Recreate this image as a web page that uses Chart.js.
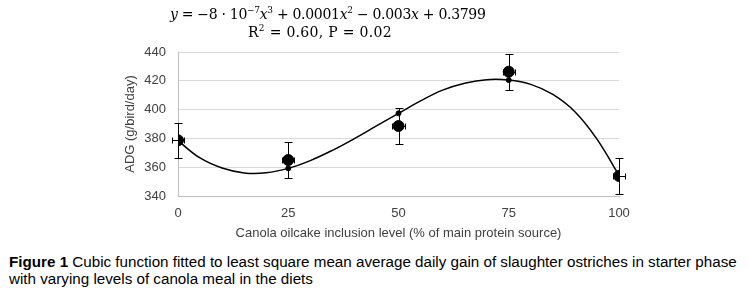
<!DOCTYPE html>
<html lang="en">
<head>
  <meta charset="UTF-8" />
  <title>Figure 1: ADG vs canola oilcake inclusion</title>
  <script src="https://cdn.jsdelivr.net/npm/chart.js"></script>
  <style>
    body { margin: 0; padding: 0; background: #fff; font-family: "Liberation Sans", Arial, sans-serif; }
    #wrap { position: relative; width: 748px; height: 295px; overflow: hidden; }
    #chart { position: absolute; left: 0; top: 0; }
    .eq { position: absolute; font-family: "DejaVu Serif", serif; font-size: 14px; line-height: 16px; color: #000; white-space: nowrap; }
    .eq i { font-style: italic; }
    .eq sup { font-size: 9px; line-height: 0; }
    #eq1 { left: 170px; top: 6px; letter-spacing: -0.3px; }
    #eq2 { left: 248px; top: 24px; letter-spacing: 0.3px; }
    #caption { position: absolute; left: 9px; top: 253px; font-size: 15.2px; line-height: 17px; color: #000; white-space: nowrap; }
  </style>
</head>
<body>
<div id="wrap">
  <canvas id="chart" width="748" height="245"></canvas>
  <div class="eq" id="eq1"><i>y</i> = −8 · 10<sup>−7</sup><i>x</i><sup>3</sup> + 0.0001<i>x</i><sup>2</sup> − 0.003<i>x</i> + 0.3799</div>
  <div class="eq" id="eq2">R<sup>2</sup> = 0.60, P = 0.02</div>
  <div id="caption"><b>Figure 1</b> Cubic function fitted to least square mean average daily gain of slaughter ostriches in starter phase<br>with varying levels of canola meal in the diets</div>
</div>

<script>
// inclusion levels (% of main protein source)
const levels = [0, 25, 50, 75, 100];
// least square means, g/bird/day
const means = [378.7, 365, 388.6, 426.3, 353.9];
const errors = [12.3, 12.3, 12.4, 12.4, 12.4];
const xErrors = [1.4, 1.4, 1.4, 1.4, 1.4];
// fitted values at each level
const fitted = [378.4, 359.2, 397.4, 420.5, 354.3];

// fitted cubic curve, every 5 %
const curveX = [0, 5, 10, 15, 20, 25, 30, 35, 40, 45, 50, 55, 60, 65, 70, 75, 80, 85, 90, 95, 100];
const curveY = [378.4, 366.4, 359.4, 356.0, 356.1, 359.2, 364.6, 371.7, 379.9, 388.7, 397.4, 406.0, 413.5, 418.3, 420.8, 420.5, 417.5, 410.5, 398.5, 379.5, 354.3];

const axisColor = '#404040';
const axisFont = { size: 13, family: '"Liberation Sans", Arial' };

const errorBars = {
  id: 'errorBars',
  afterDatasetsDraw(chart) {
    const { ctx, scales: { x, y } } = chart;
    ctx.save();
    ctx.strokeStyle = '#000';
    ctx.lineWidth = 1;
    levels.forEach((lv, i) => {
      const px = Math.round(x.getPixelForValue(lv)) + 0.5;
      const py = Math.round(y.getPixelForValue(means[i])) + 0.5;
      const top = Math.round(y.getPixelForValue(means[i] + errors[i])) + 0.5;
      const bot = Math.round(y.getPixelForValue(means[i] - errors[i])) + 0.5;
      ctx.beginPath();
      ctx.moveTo(px, top); ctx.lineTo(px, bot);
      ctx.moveTo(px - 4, top); ctx.lineTo(px + 4, top);
      ctx.moveTo(px - 4, bot); ctx.lineTo(px + 4, bot);
      // small horizontal bar
      const l = Math.round(x.getPixelForValue(lv - xErrors[i])) + 0.5;
      const r = Math.round(x.getPixelForValue(lv + xErrors[i])) + 0.5;
      ctx.moveTo(l, py); ctx.lineTo(r, py);
      ctx.moveTo(l, py - 3); ctx.lineTo(l, py + 3);
      ctx.moveTo(r, py - 3); ctx.lineTo(r, py + 3);
      ctx.stroke();
    });
    ctx.restore();
  }
};

new Chart(document.getElementById('chart'), {
  type: 'scatter',
  data: {
    datasets: [
      {
        data: curveX.map((v, i) => ({ x: v, y: curveY[i] })),
        showLine: true,
        borderColor: '#000',
        borderWidth: 1.5,
        pointRadius: 0,
        tension: 0.4
      },
      {
        data: levels.map((v, i) => ({ x: v, y: fitted[i] })),
        backgroundColor: '#000',
        borderColor: '#000',
        pointRadius: 2.5
      },
      {
        data: levels.map((v, i) => ({ x: v, y: means[i] })),
        backgroundColor: '#000',
        borderColor: '#000',
        pointRadius: 5.5
      }
    ]
  },
  options: {
    responsive: false,
    animation: false,
    layout: { padding: { left: 119, right: 129, top: 52, bottom: 0 } },
    plugins: { legend: { display: false }, tooltip: { enabled: false } },
    scales: {
      x: {
        type: 'linear',
        min: 0, max: 100,
        afterFit(s) { s.height = 49; },
        ticks: { stepSize: 25, padding: 10, color: axisColor, font: axisFont },
        grid: { display: false, drawTicks: false },
        border: { display: true, color: '#bfbfbf' },
        title: { display: true, text: 'Canola oilcake inclusion level (% of main protein source)', color: axisColor, font: axisFont }
      },
      y: {
        min: 340, max: 440,
        afterFit(s) { s.width = 59; },
        ticks: { stepSize: 20, padding: 12, color: axisColor, font: axisFont },
        grid: { color: '#d9d9d9', drawTicks: false },
        border: { display: true, color: '#bfbfbf' },
        title: { display: true, text: 'ADG (g/bird/day)', color: axisColor, font: axisFont }
      }
    }
  },
  plugins: [errorBars]
});
</script>
</body>
</html>
